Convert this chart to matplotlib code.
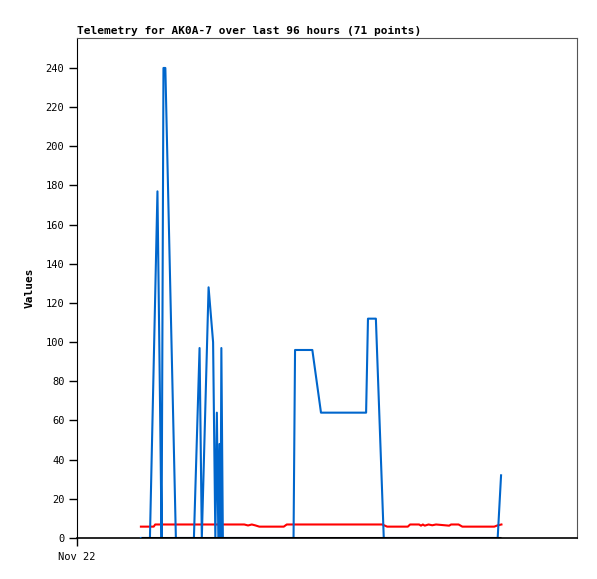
import matplotlib
matplotlib.use("Agg")
import matplotlib.pyplot as plt

# hours since Nov 22 00:00
blue_x = [17.0, 19.4, 21.4, 22.1, 22.5, 23.0, 23.5, 26.3, 31.1, 32.6, 33.2, 35.0, 36.2,
          36.8, 37.2, 37.6, 37.9, 38.2, 38.4, 38.8, 57.6, 58.0, 62.6, 64.9, 76.9, 77.4,
          79.5, 81.6, 111.9, 112.8]
blue_y = [0, 0, 177, 66, 0, 240, 240, 0, 0, 97, 0, 128, 100,
          0, 64, 0, 48, 0, 97, 0, 0, 96, 96, 64, 64, 112,
          112, 0, 0, 32]

red_x = [17.0, 20.4, 20.8, 44.5, 45.5, 46.5, 47.5, 48.5, 55.0, 55.8, 81.2, 82.5, 88.0,
         88.6, 91.0, 91.5, 92.0, 92.5, 93.5, 94.5, 95.5, 99.0, 99.5, 101.5, 102.5,
         111.0, 111.8, 112.9]
red_y = [5.8, 5.8, 6.9, 6.9, 6.4, 6.9, 6.4, 5.8, 5.8, 6.9, 6.9, 5.8, 5.8,
         6.9, 6.9, 6.3, 6.9, 6.3, 6.9, 6.5, 6.9, 6.3, 6.9, 6.9, 5.8,
         5.8, 6.4, 6.9]

base_x = [17.0, 112.9]
base_y = [0, 0]

y_ticks = list(range(0, 241, 20))

mono = "DejaVu Sans Mono"

fig = plt.figure(figsize=(5.97, 5.79), dpi=100)
ax = fig.add_axes([77 / 597, 41 / 579, 500 / 597, 500 / 579])

ax.plot(red_x, red_y, color="#ff0000", linewidth=1.5, zorder=2)
ax.plot(blue_x, blue_y, color="#0066cc", linewidth=1.5, zorder=3)
ax.plot(base_x, base_y, color="black", linewidth=2.2, zorder=4, solid_capstyle="butt")

ax.set_xlim(0, 133)
ax.set_ylim(0, 255.3)
ax.set_yticks(y_ticks)
ax.set_yticklabels([str(v) for v in y_ticks], family=mono, fontsize=7.5)
ax.set_xticks([0])
ax.set_xticklabels(["Nov 22"], family=mono, fontsize=7.5)
ax.tick_params(axis="both", direction="out", length=6, width=1, color="black", pad=3)
ax.tick_params(axis="x", pad=4)

for side in ("top", "right"):
    ax.spines[side].set_color("#555555")
ax.spines["left"].set_color("black")
ax.spines["bottom"].set_color("black")
ax.spines["bottom"].set_linewidth(1.2)

ax.set_ylabel("Values", family=mono, fontsize=8, fontweight="bold", labelpad=8)
ax.set_title("Telemetry for AK0A-7 over last 96 hours (71 points)", family=mono,
             fontsize=8, fontweight="bold", loc="left", pad=3)

fig.savefig("out.png", dpi=100)
